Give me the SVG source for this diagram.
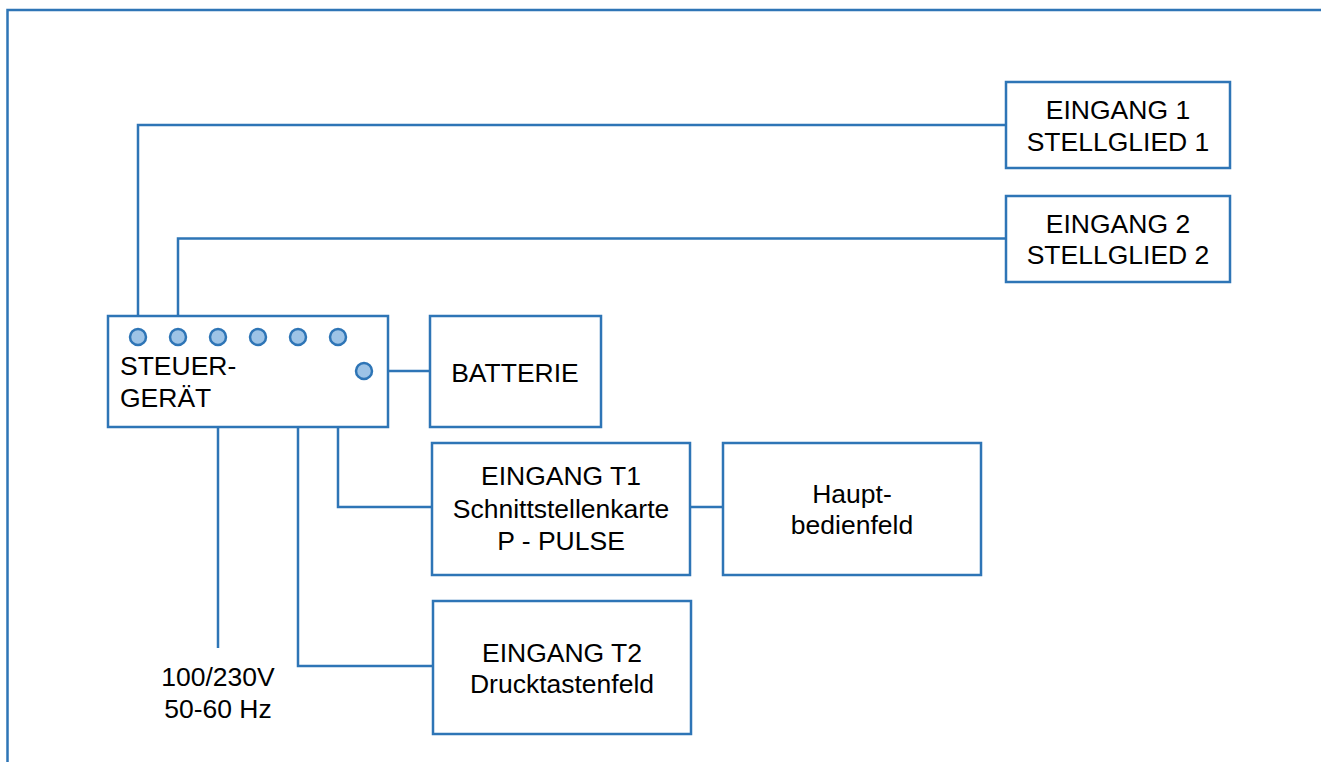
<svg xmlns="http://www.w3.org/2000/svg" width="1321" height="762" viewBox="0 0 1321 762">
<style>
.box{fill:#fff;stroke:#2E75B6;stroke-width:2.5}
.ln{fill:none;stroke:#2E75B6;stroke-width:2.5}
.pin{fill:#9DC3E6;stroke:#2E75B6;stroke-width:2.5}
text{font-family:"Liberation Sans",Arial,sans-serif;font-size:26.5px;fill:#000}
.c{text-anchor:middle}
</style>
<rect width="1321" height="762" fill="#fff"/>
<path class="ln" d="M7.5,762 V10 H1321"/>
<g id="connectors">
<path class="ln" d="M138,337 V125 H1006"/>
<path class="ln" d="M178,337 V238.5 H1006"/>
<path class="ln" d="M364,371 H430"/>
<path class="ln" d="M338,337 V507 H432"/>
<path class="ln" d="M298,337 V666 H433"/>
<path class="ln" d="M218,427 V648"/>
<path class="ln" d="M690,507 H723"/>
</g>
<g id="steuergeraet">
<rect class="box" x="108" y="316" width="280" height="111"/>
<circle class="pin" cx="138" cy="337" r="8"/>
<circle class="pin" cx="178" cy="337" r="8"/>
<circle class="pin" cx="218" cy="337" r="8"/>
<circle class="pin" cx="258" cy="337" r="8"/>
<circle class="pin" cx="298" cy="337" r="8"/>
<circle class="pin" cx="338" cy="337" r="8"/>
<circle class="pin" cx="364" cy="371" r="8"/>
<text x="120" y="375">STEUER-</text>
<text x="120" y="407">GERÄT</text>
</g>
<g id="eingang1">
<rect class="box" x="1006" y="82" width="224" height="86"/>
<text class="c" x="1118" y="119">EINGANG 1</text>
<text class="c" x="1118" y="151">STELLGLIED 1</text>
</g>
<g id="eingang2">
<rect class="box" x="1006" y="196" width="224" height="86"/>
<text class="c" x="1118" y="233">EINGANG 2</text>
<text class="c" x="1118" y="264">STELLGLIED 2</text>
</g>
<g id="batterie">
<rect class="box" x="430" y="316" width="171" height="111"/>
<text class="c" x="515" y="382">BATTERIE</text>
</g>
<g id="eingangT1">
<rect class="box" x="432" y="443" width="258" height="132"/>
<text class="c" x="561" y="485">EINGANG T1</text>
<text class="c" x="561" y="518">Schnittstellenkarte</text>
<text class="c" x="561" y="550">P - PULSE</text>
</g>
<g id="hauptbedienfeld">
<rect class="box" x="723" y="443" width="258" height="132"/>
<text class="c" x="852" y="503">Haupt-</text>
<text class="c" x="852" y="534">bedienfeld</text>
</g>
<g id="eingangT2">
<rect class="box" x="433" y="601" width="258" height="133"/>
<text class="c" x="562" y="662">EINGANG T2</text>
<text class="c" x="562" y="693">Drucktastenfeld</text>
</g>
<g id="netz">
<text class="c" x="218" y="686">100/230V</text>
<text class="c" x="218" y="718">50-60 Hz</text>
</g>
</svg>
